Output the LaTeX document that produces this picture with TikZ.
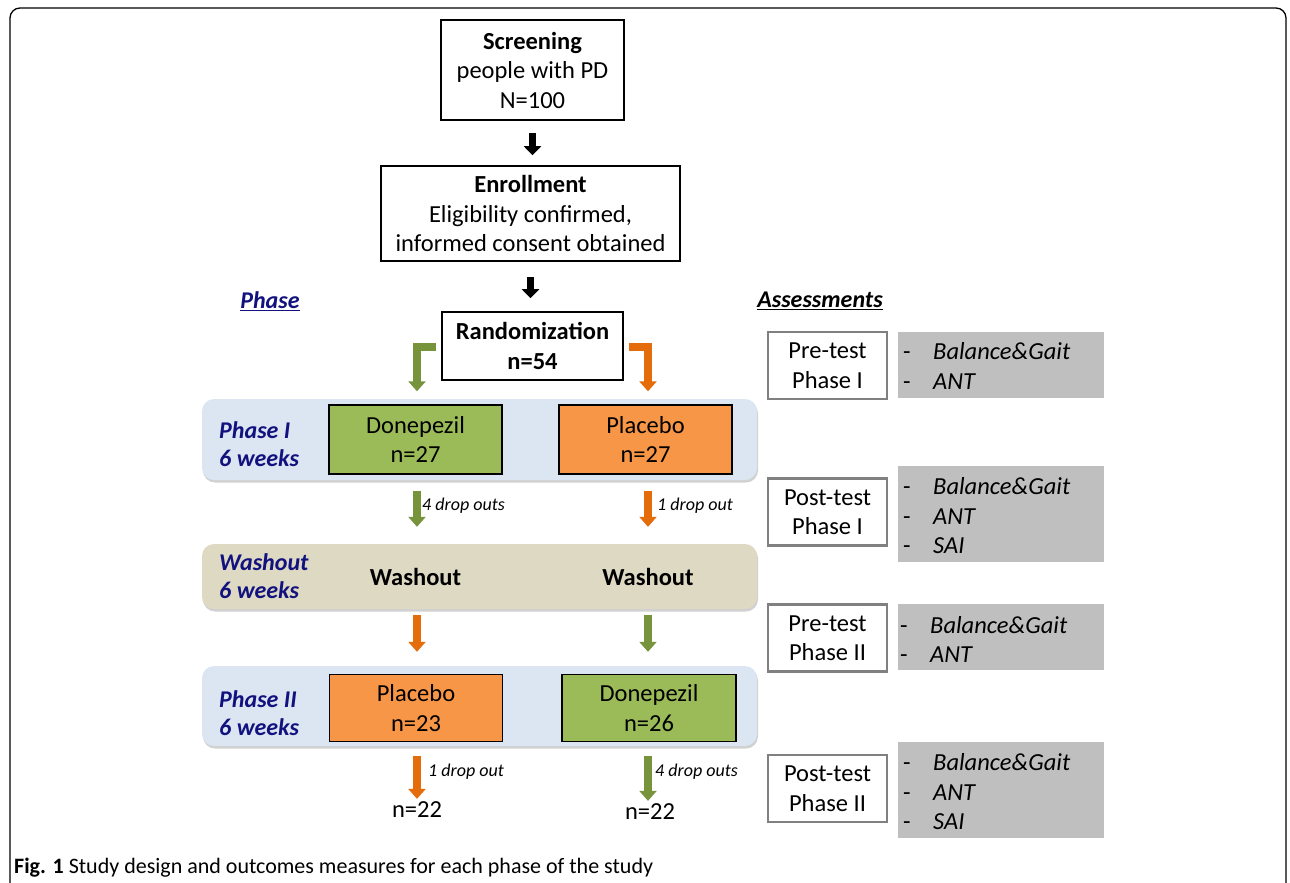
\documentclass[tikz,border=0pt]{standalone}
\usepackage{fontspec}
\setmainfont{Carlito}
\usetikzlibrary{arrows.meta,shadows,calc}
\definecolor{grarrow}{HTML}{77933C}
\definecolor{orarrow}{HTML}{E46C0A}
\definecolor{grfill}{HTML}{9BBB59}
\definecolor{orfill}{HTML}{F79646}
\definecolor{bandblue}{HTML}{DCE6F2}
\definecolor{bandbeige}{HTML}{DDD9C3}
\definecolor{navy}{HTML}{12127F}
\definecolor{assgray}{HTML}{BFBFBF}
\definecolor{assborder}{HTML}{808080}
\tikzset{
  base/.style={font=\fontsize{24.5}{29.5}\selectfont, align=center, inner sep=0pt},
  flowbox/.style={base, draw=black, line width=1.6pt, fill=white},
  armbox/.style={base, draw=black, line width=1.4pt, minimum width=173pt, minimum height=69pt},
  band/.style={rounded corners=12pt, draw=none, minimum width=555pt, drop shadow={shadow xshift=1pt, shadow yshift=-2.5pt, fill=black!30, opacity=0.6}},
  phaselab/.style={font=\fontsize{24}{28}\selectfont\bfseries\itshape, text=navy, align=left, anchor=west, inner sep=0pt},
  blk/.style={line width=7pt, -{Triangle[width=17pt,length=9pt]}, black},
  grn/.style={line width=8pt, -{Triangle[width=17pt,length=10pt]}, grarrow, line join=miter},
  org/.style={line width=8pt, -{Triangle[width=17pt,length=10pt]}, orarrow, line join=miter},
  droplab/.style={font=\fontsize{18}{21}\selectfont\itshape, anchor=west, inner sep=0pt},
  testbox/.style={base, draw=assborder, line width=2.5pt, fill=white, minimum width=119pt, minimum height=67pt},
  itembox/.style={draw=none, fill=assgray, minimum width=206pt},
  items/.style={font=\fontsize{24.5}{29.5}\selectfont, align=left, anchor=west, inner sep=0pt},
}
\newcommand{\itm}[1]{\makebox[30pt][l]{-}\textit{#1}}
\begin{document}
\begin{tikzpicture}[x=1pt,y=-1pt]
\useasboundingbox (0,0) rectangle (1290,883);
\begin{scope}
\clip (0,0) rectangle (1290,883);
\draw[line width=1.3pt, rounded corners=10pt] (10,8) rectangle (1286,910);
\end{scope}

% main flow
\node[flowbox, minimum width=183pt, minimum height=100pt, text depth=-10pt] (scr) at (532.5,70) {\textbf{Screening}\\people with PD\\N=100};
\node[flowbox, minimum width=299pt, minimum height=95pt, text depth=-4pt] (enr) at (530.5,213.5) {\textbf{Enrollment}\\Eligibility confirmed,\\informed consent obtained};
\node[flowbox, minimum width=181pt, minimum height=68pt] (rnd) at (532.5,346) {\textbf{Randomization}\\\textbf{n=54}};

\draw[blk, shorten <=12pt, shorten >=10pt] (scr.south) -- (scr.south |- enr.north);
\draw[blk, shorten <=15pt, shorten >=13pt] (enr.south) -- (enr.south |- rnd.north);

\node[font=\fontsize{24}{28}\selectfont\bfseries\itshape, text=navy, inner sep=0pt] (phh) at (270,301) {\underline{Phase}};
\node[font=\fontsize{24}{28}\selectfont\bfseries\itshape, inner sep=0pt] (ash) at (820,301) {\underline{Assessments}};

% bands
\node[band, fill=bandblue, minimum height=81pt] (b1) at (479.5,439.5) {};
\node[band, fill=bandbeige, minimum height=65pt] (b2) at (479.5,576.5) {};
\node[band, fill=bandblue, minimum height=80pt] (b3) at (479.5,706) {};

\node[phaselab] (p1) at (219,444.5) {Phase I\\6 weeks};
\node[phaselab] (p2) at (219,576) {Washout\\6 weeks};
\node[phaselab] (p3) at (219,713) {Phase II\\6 weeks};

\node[armbox, fill=grfill] (d1) at (415.5,439.5) {Donepezil\\n=27};
\node[armbox, fill=orfill] (pl1) at (645.5,439.5) {Placebo\\n=27};

\node[base, font=\fontsize{24.5}{29.5}\selectfont\bfseries] (w1) at (415.5,577) {Washout};
\node[base, font=\fontsize{24.5}{29.5}\selectfont\bfseries] (w2) at (648,577) {Washout};

\node[armbox, fill=orfill, minimum height=67pt] (pl2) at (416,708) {Placebo\\n=23};
\node[armbox, fill=grfill, minimum height=67pt, minimum width=174pt] (d2) at (649,708) {Donepezil\\n=26};

\node[base] (f1) at (417,810) {n=22};
\node[base] (f2) at (650,812) {n=22};

% randomization elbows
\coordinate (gk) at (417,347);
\coordinate (ok) at (648,347);
\draw[grn, shorten <=5pt] (rnd.west |- gk) -- (gk) -- (gk |- d1.north) [shorten >=13pt];
\draw[org, shorten <=5pt] (rnd.east |- ok) -- (ok) -- (ok |- pl1.north) [shorten >=13pt];

% phase I -> washout
\draw[grn, shorten <=16pt, shorten >=17pt] (d1.south -| gk) -- (gk |- b2.north);
\draw[org, shorten <=16pt, shorten >=17pt] (pl1.south -| ok) -- (ok |- b2.north);
\node[droplab] (dl1) at (422,506) {4 drop outs};
\node[droplab] (dl2) at (657,506) {1 drop out};

% washout -> phase II
\draw[org, shorten <=6pt, shorten >=14pt] (b2.south -| gk) -- (gk |- b3.north);
\draw[grn, shorten <=6pt, shorten >=14pt] (b2.south -| ok) -- (ok |- b3.north);

% phase II -> final
\draw[org, shorten <=14pt, shorten >=3pt] (pl2.south -| gk) -- (gk |- f1.north);
\draw[grn, shorten <=14pt, shorten >=3pt] (d2.south -| ok) -- (ok |- f2.north);
\node[droplab] (dl3) at (428,772) {1 drop out};
\node[droplab] (dl4) at (655,772) {4 drop outs};

% assessments
\node[testbox] (t1) at (827.5,365.5) {Pre-test\\Phase I};
\node[itembox, minimum height=66pt] (g1) at (1001,365) {};
\node[items] (i1) at (903,366) {\itm{Balance\&Gait}\\\itm{ANT}};

\node[testbox] (t2) at (827.5,512) {Post-test\\Phase I};
\node[itembox, minimum height=96pt] (g2) at (1001,514) {};
\node[items] (i2) at (903,516) {\itm{Balance\&Gait}\\\itm{ANT}\\\itm{SAI}};

\node[testbox] (t3) at (827.5,638) {Pre-test\\Phase II};
\node[itembox, minimum height=66pt] (g3) at (1001,637) {};
\node[items] (i3) at (900,639.5) {\itm{Balance\&Gait}\\\itm{ANT}};

\node[testbox] (t4) at (827.5,788.5) {Post-test\\Phase II};
\node[itembox, minimum height=96pt] (g4) at (1001,790) {};
\node[items] (i4) at (903,792) {\itm{Balance\&Gait}\\\itm{ANT}\\\itm{SAI}};

% caption
\node[anchor=base west, inner sep=0pt, font=\fontsize{22}{26}\selectfont] (cap) at (14,873) {\textbf{Fig. 1} Study design and outcomes measures for each phase of the study};
\end{tikzpicture}
\end{document}
